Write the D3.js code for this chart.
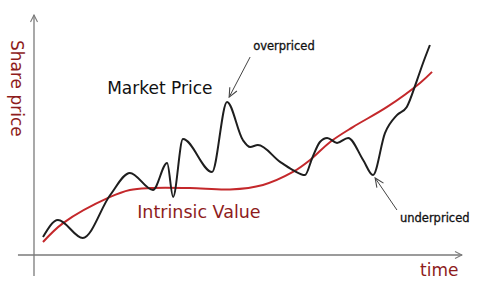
<!DOCTYPE html>
<html>
<head>
<meta charset="utf-8">
<script src="https://cdn.jsdelivr.net/npm/d3@7"></script>
<style>
  html, body { margin: 0; padding: 0; background: #fff; }
  svg { display: block; }
  text { font-family: "DejaVu Sans", sans-serif; }
</style>
</head>
<body>
<svg id="chart" width="477" height="281"></svg>
<script>
// ---- data (time, share price) ----
const marketTime  = [2.1, 5.6, 11.4, 17.8, 22.4, 27.8, 31.1, 32.5, 34.8, 41.6, 45.1, 48.8, 50.5, 52.3, 57.5, 60.5, 63.3, 65.0, 66.8, 68.5, 70.8, 73.4, 76.9, 79.2, 82.0, 84.8, 87.1, 89.5, 90.9, 92.5];
const marketPrice = [7.5, 14.6, 7.1, 25.0, 34.2, 27.1, 38.3, 24.2, 48.3, 34.6, 63.8, 47.9, 45.0, 45.8, 38.8, 35.4, 33.3, 40.4, 47.1, 48.8, 46.7, 48.8, 39.6, 33.3, 50.8, 58.3, 61.7, 72.9, 80.0, 87.5];
const intrinsicTime  = [2.1, 6.8, 17.8, 22.4, 27.1, 36.4, 45.8, 53.5, 60.5, 64.5, 69.2, 74.5, 82.5, 90.2, 93.0];
const intrinsicValue = [5.4, 13.3, 24.2, 27.1, 27.9, 27.9, 27.3, 29.2, 34.6, 39.6, 47.1, 53.3, 61.7, 71.7, 76.3];
const labels = { y: "Share price", x: "time", market: "Market Price", intrinsic: "Intrinsic Value", over: "overpriced", under: "underpriced" };

const svg = d3.select("#chart");
const x = d3.scaleLinear().domain([0, 100]).range([34, 462]);
const y = d3.scaleLinear().domain([0, 100]).range([255, 15]);

const axisColor = "#7a7a7a";
const darkRed = "#8e1c1c";

const defs = svg.append("defs");
function marker(id, len, half, color) {
  defs.append("marker")
    .attr("id", id).attr("markerUnits", "userSpaceOnUse")
    .attr("viewBox", `${-len - 1} ${-half - 1} ${len + 2} ${2 * half + 2}`)
    .attr("refX", 0).attr("refY", 0)
    .attr("markerWidth", len + 2).attr("markerHeight", 2 * half + 2)
    .attr("orient", "auto")
    .append("path").attr("d", `M${-len},${-half}L0,0L${-len},${half}`)
    .attr("fill", "none").attr("stroke", color).attr("stroke-width", 1.1);
}
marker("axisHead", 7, 3.5, axisColor);
marker("noteHead", 9, 4, "#444");

// axes
svg.append("line")
  .attr("x1", x(0)).attr("x2", x(0)).attr("y1", y(-8.75)).attr("y2", y(100))
  .attr("stroke", axisColor).attr("stroke-width", 1.3).attr("marker-end", "url(#axisHead)");
svg.append("line")
  .attr("x1", x(-3.75)).attr("x2", x(100)).attr("y1", y(0)).attr("y2", y(0))
  .attr("stroke", axisColor).attr("stroke-width", 1.3).attr("marker-end", "url(#axisHead)");

// lines
const intrinsicData = intrinsicTime.map((t, i) => [t, intrinsicValue[i]]);
const marketData = marketTime.map((t, i) => [t, marketPrice[i]]);

svg.append("path")
  .attr("d", d3.line().x(d => x(d[0])).y(d => y(d[1])).curve(d3.curveCatmullRom.alpha(0.5))(intrinsicData))
  .attr("fill", "none").attr("stroke", "#c4282b").attr("stroke-width", 2);

svg.append("path")
  .attr("d", d3.line().x(d => x(d[0])).y(d => y(d[1])).curve(d3.curveMonotoneX)(marketData))
  .attr("fill", "none").attr("stroke", "#1e1e1e").attr("stroke-width", 2);

// annotation arrows
svg.append("line")
  .attr("x1", x(50.5)).attr("y1", y(82.5)).attr("x2", x(45.6)).attr("y2", y(65.8))
  .attr("stroke", "#444").attr("stroke-width", 1).attr("marker-end", "url(#noteHead)");
svg.append("line")
  .attr("x1", x(84.8)).attr("y1", y(18.75)).attr("x2", x(79.7)).attr("y2", y(32.1))
  .attr("stroke", "#444").attr("stroke-width", 1).attr("marker-end", "url(#noteHead)");

// texts
svg.append("text").text(labels.market)
  .attr("x", x(17.1)).attr("y", y(67.1)).attr("font-size", 17).attr("fill", "#111");
svg.append("text").text(labels.intrinsic)
  .attr("x", x(24.1)).attr("y", y(15.4)).attr("font-size", 17.5).attr("fill", darkRed);
svg.append("text").text(labels.over)
  .attr("x", x(51.2)).attr("y", y(85.4)).attr("font-size", 11.5).attr("fill", "#111")
  .attr("stroke", "#111").attr("stroke-width", 0.3);
svg.append("text").text(labels.under)
  .attr("x", x(85.5)).attr("y", y(13.75)).attr("font-size", 11.5).attr("fill", "#111")
  .attr("stroke", "#111").attr("stroke-width", 0.3);
svg.append("text").text(labels.x)
  .attr("x", x(90.2)).attr("y", y(-8.75)).attr("font-size", 17).attr("fill", darkRed);
svg.append("text").text(labels.y)
  .attr("transform", `translate(${x(-5.37)},${y(89.6)}) rotate(90)`)
  .attr("font-size", 17).attr("fill", darkRed);
</script>
</body>
</html>
